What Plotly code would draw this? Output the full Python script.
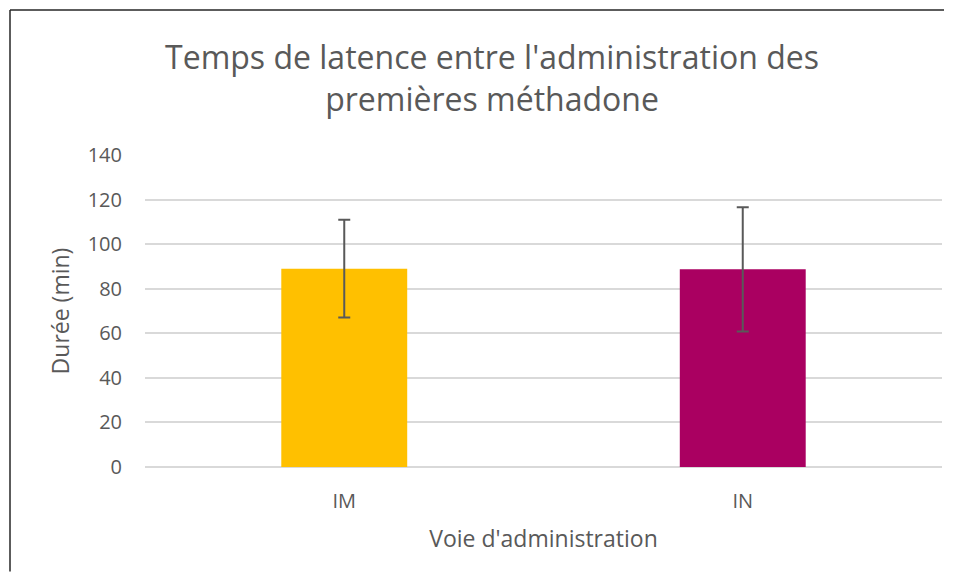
import plotly.graph_objects as go

categories = ["IM", "IN"]
means = [89.0, 88.7]
errors = [21.9, 27.9]
colors = ["#FFC000", "#AA0061"]
y_ticks = [0, 20, 40, 60, 80, 100, 120, 140]

# page has 8px body margin; work in reference pixel coords shifted by OFF
OFF = 8
W, H = 959 - 2 * OFF, 580 - 2 * OFF
L, T = 145 - OFF, 155 - OFF
R = W - (942 - OFF)
B = H - (467 - OFF)
pw, ph = W - L - R, H - T - B

def px_x(x):
    return (x - OFF - L) / pw

def px_y(y):
    return 1 - (y - OFF - T) / ph

fig = go.Figure()
fig.add_trace(go.Bar(
    x=categories, y=means,
    marker=dict(color=colors, line=dict(width=0)),
    width=0.316,
    error_y=dict(type="data", array=errors, visible=True,
                 color="#595959", thickness=2, width=6),
    showlegend=False,
))

font_family = "Open Sans, Noto Sans, sans-serif"
fig.update_layout(
    width=W, height=H,
    margin=dict(l=L, r=R, t=T, b=B),
    paper_bgcolor="white", plot_bgcolor="white",
    font=dict(family=font_family, color="#595959"),
    title=dict(text="Temps de latence entre l'administration des<br>premières méthadone",
               x=(492 - OFF) / W, xanchor="center", xref="container",
               y=1 - (69 - OFF) / H, yanchor="middle", yref="container",
               font=dict(size=32, color="#595959", family=font_family)),
    xaxis=dict(
        showgrid=False, showline=False, zeroline=False, ticks="",
        tickfont=dict(size=20, color="#595959"),
        ticklabelstandoff=20,
        title=dict(text="Voie d'administration", font=dict(size=23, color="#595959"), standoff=17),
    ),
    yaxis=dict(
        range=[0, 140], tickvals=y_ticks, showgrid=True, gridcolor="#D9D9D9", gridwidth=1.5,
        zeroline=True, zerolinecolor="#D9D9D9", zerolinewidth=1.5,
        showline=False, ticks="", ticklen=0,
        tickfont=dict(size=20, color="#595959"),
        ticklabelstandoff=22,
        title=dict(text="Durée (min)", font=dict(size=23, color="#595959"), standoff=11),
    ),
)

# chart frame (left and top edges visible)
right_edge = 944
bottom_edge = OFF + H - 0.5
fig.add_shape(type="line", xref="paper", yref="paper",
              x0=px_x(10), x1=px_x(10), y0=px_y(10), y1=px_y(bottom_edge),
              line=dict(color="#262626", width=1.5))
fig.add_shape(type="line", xref="paper", yref="paper",
              x0=px_x(10), x1=px_x(right_edge), y0=px_y(10), y1=px_y(10),
              line=dict(color="#262626", width=1.5))

fig.write_html("out.html")
